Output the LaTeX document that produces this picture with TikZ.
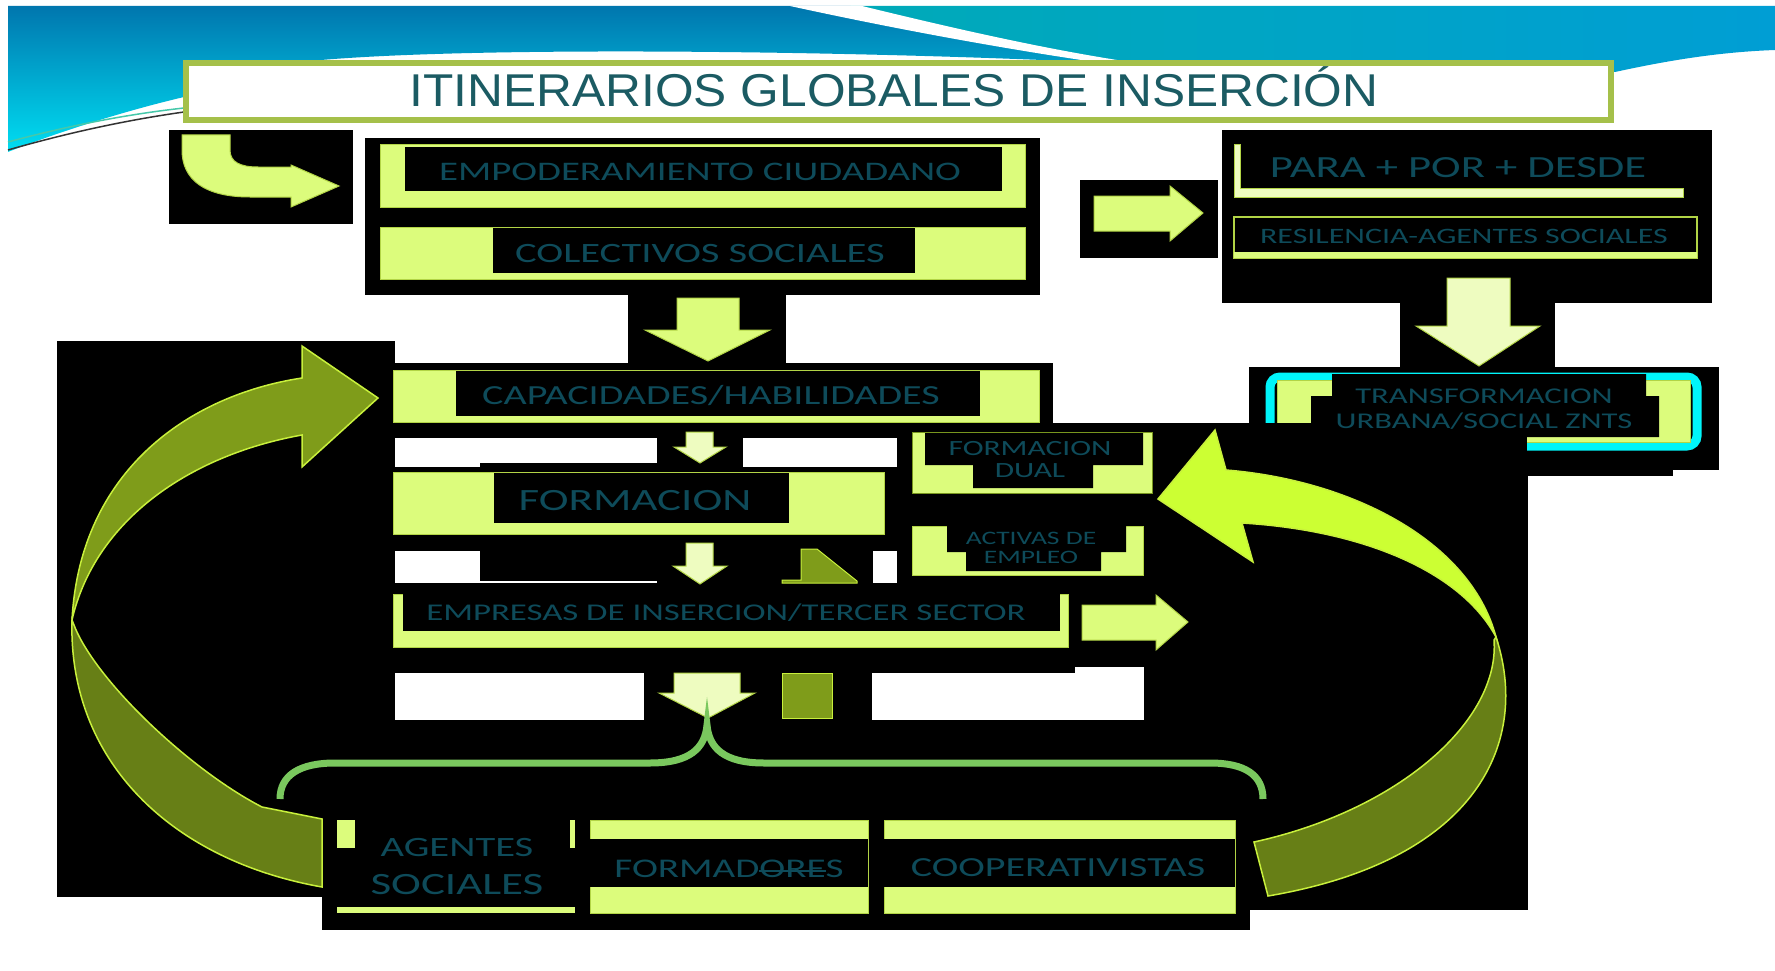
\documentclass[tikz,border=0pt]{standalone}
\usepackage{fontspec}
\usepackage{tikz}
\newfontfamily\boxfont[FakeStretch=1.45]{Carlito}
\newfontfamily\titlefont[FakeStretch=1.08]{Liberation Sans}
\newcommand{\strikeword}[1]{\setbox0\hbox{#1}\rlap{\rule[0.18em]{\wd0}{1.8pt}}\box0}
\definecolor{deepblue}{RGB}{0,118,174}
\definecolor{skycyan}{RGB}{0,222,242}
\definecolor{tealband}{RGB}{0,170,184}
\definecolor{oceanband}{RGB}{0,158,212}
\definecolor{swooshgreen}{RGB}{70,200,170}
\definecolor{titlegreen}{RGB}{165,192,74}
\definecolor{titleteal}{RGB}{27,91,99}
\definecolor{tealtext}{RGB}{14,75,90}
\definecolor{boxlime}{RGB}{220,252,124}
\definecolor{palelime}{RGB}{238,252,192}
\definecolor{limeedge}{RGB}{178,212,70}
\definecolor{oliveedge}{RGB}{120,150,30}
\definecolor{armolive}{RGB}{127,156,26}
\definecolor{armdark}{RGB}{103,127,22}
\definecolor{armbright}{RGB}{204,255,51}
\definecolor{armedge}{RGB}{200,240,60}
\definecolor{bracegreen}{RGB}{122,200,94}
\definecolor{cyanframe}{RGB}{0,245,250}

\begin{document}
\begin{tikzpicture}[x=1pt,y=1pt,yscale=-1,xscale=1,
  blk/.style={fill=black,draw=none},
  gap/.style={fill=white,draw=none},
  limebox/.style={fill=boxlime,draw=limeedge,line width=1},
  limearrow/.style={fill=boxlime,draw=limeedge,line width=1},
  palearrow/.style={fill=palelime,draw=limeedge,line width=1},
  olivepiece/.style={fill=armolive,draw=armedge,line width=1},
  ribbon/.style={draw=armedge,line width=1.5},
  lbl/.style={font=\boxfont\fontsize{#1}{#1}\selectfont,text=tealtext,inner sep=0pt,anchor=base}]

\fill[white] (0,0) rectangle (1775,971);
\useasboundingbox (0,0) rectangle (1775,971);

%Shape: Top band, left part
\shade[top color=deepblue,bottom color=skycyan] (8,6) -- (850,6) .. controls (950,30) and (1050,50) .. (1130,64) .. controls (900,52) and (500,45) .. (321,60) .. controls (250,70) and (210,88) .. (184,97) .. controls (120,112) and (50,135) .. (8,152) -- cycle;
%Shape: Top band, right part
\shade[left color=tealband,right color=oceanband] (850,6) -- (1775,6) -- (1775,50) .. controls (1720,52) and (1670,60) .. (1615,72) -- (1130,64) .. controls (1050,50) and (950,30) .. (850,6) -- cycle;
%Shape: White swoosh
\fill[white] (790,6) -- (862,6) .. controls (960,30) and (1050,50) .. (1130,62) -- (1130,67) .. controls (1020,52) and (900,30) .. (790,6) -- cycle;
%Curve Lines
\draw[swooshgreen,line width=1.5] (8,142) .. controls (60,128) and (120,115) .. (184,108);
\draw[black!80,line width=1.5] (8,150) .. controls (60,135) and (120,121) .. (184,112);

%Shape: Title frame
\draw[titlegreen,line width=6,fill=white] (186,63) rectangle (1611,120);
% Text Node
\draw (894,107) node (title) [anchor=base,inner sep=0pt,text=titleteal,font=\titlefont\fontsize{46}{46}\selectfont] {ITINERARIOS GLOBALES DE INSERCIÓN};

%Shape: Black backgrounds
\fill[blk] (169,130) rectangle (353,224);
\fill[blk] (365,138) rectangle (1040,295);
\fill[blk] (628,295) rectangle (786,363);
\fill[blk] (57,341) rectangle (395,897);
\fill[blk] (379,363) rectangle (1053,423);
\fill[blk] (395,423) rectangle (1053,720);
\fill[blk] (1053,423) rectangle (1528,910);
\fill[blk] (322,720) rectangle (1250,930);
\fill[blk] (1080,180) rectangle (1218,258);
\fill[blk] (1222,130) rectangle (1712,303);
\fill[blk] (1400,303) rectangle (1555,367);
\fill[blk] (1249,367) rectangle (1719,470);
\fill[blk] (1528,470) rectangle (1673,476);

%Shape: White gaps
\fill[gap] (395,438) rectangle (657,463);
\fill[gap] (395,463) rectangle (480,467);
\fill[gap] (743,438) rectangle (897,467);
\fill[gap] (395,551) rectangle (480,583);
\fill[gap] (480,581) rectangle (657,583);
\fill[gap] (873,551) rectangle (897,583);
\fill[gap] (395,673) rectangle (644,720);
\fill[gap] (872,673) rectangle (1144,720);
\fill[gap] (1075,667) rectangle (1144,673);

%Shape: Bent arrow
\draw[limearrow] (182,135) -- (230,135) -- (230,150) .. controls (230,162) and (240,167) .. (258,167) -- (291,167) -- (291,165) -- (339,186) -- (291,207) -- (291,197) -- (250,197) .. controls (205,197) and (182,180) .. (182,150) -- cycle;

%Shape: Empoderamiento
\draw[limebox] (380,145) rectangle (1025,207);
\fill[blk] (405,147) rectangle (1002,191);
% Text Node
\draw (700,180) node (empod) [lbl=26.8] {EMPODERAMIENTO CIUDADANO};

%Shape: Colectivos
\draw[limebox] (380,227) rectangle (1025,279);
\fill[blk] (493,228) rectangle (915,273);
% Text Node
\draw (700,262) node (colect) [lbl=28] {COLECTIVOS SOCIALES};

%Shape: Down arrow
\draw[limearrow] (677,298) -- (739,298) -- (739,330) -- (770,330) -- (708,361) -- (645,330) -- (677,330) -- cycle;

%Shape: Capacidades
\draw[limebox] (393,370) rectangle (1039,422);
\fill[blk] (456,371) rectangle (980,416);
% Text Node
\draw (711,404) node (capac) [lbl=27.6] {CAPACIDADES/HABILIDADES};

%Shape: Small down arrows
\draw[palearrow] (686,432) -- (713,432) -- (713,447) -- (726,447) -- (700,463) -- (674,447) -- (686,447) -- cycle;
\draw[palearrow] (686,543) -- (713,543) -- (713,566) -- (727,566) -- (700,584) -- (673,566) -- (686,566) -- cycle;

%Shape: Formacion
\draw[limebox] (393,472) rectangle (884,534);
\fill[blk] (494,473) rectangle (789,523);
% Text Node
\draw (635,510) node (formac) [lbl=31] {FORMACION};

%Shape: Olive pieces
\draw[olivepiece] (801,549) -- (817,549) -- (857,581) -- (857,583) -- (782,583) -- (782,580) -- (801,580) -- cycle;
\draw[olivepiece] (782,673) rectangle (832,718);

%Shape: Formacion dual
\draw[limebox,draw=oliveedge] (912,432) rectangle (1152,493);
\fill[blk] (925,433) -- (1143,433) -- (1143,465) -- (1093,465) -- (1093,488) -- (973,488) -- (973,465) -- (925,465) -- cycle;
% Text Node
\draw (1030,455) node (dual1) [lbl=21.7] {FORMACION};
% Text Node
\draw (1030,477) node (dual2) [lbl=21.7] {DUAL};

%Shape: Activas de empleo
\draw[limebox] (912,526) rectangle (1143,575);
\fill[blk] (947,526) -- (1126,526) -- (1126,552) -- (1101,552) -- (1101,571) -- (966,571) -- (966,552) -- (947,552) -- cycle;
% Text Node
\draw (1031,544) node (activ1) [lbl=19] {ACTIVAS DE};
% Text Node
\draw (1031,563) node (activ2) [lbl=19] {EMPLEO};

%Shape: Empresas
\draw[limebox] (393,594) rectangle (1068,647);
\fill[blk] (403,594) rectangle (1060,631);
% Text Node
\draw (726,620) node (empres) [lbl=24] {EMPRESAS DE INSERCION/TERCER SECTOR};

%Shape: Right arrows
\draw[limearrow] (1082,605) -- (1156,605) -- (1156,595) -- (1188,622) -- (1156,650) -- (1156,640) -- (1082,640) -- cycle;
\draw[limearrow] (1094,196) -- (1170,196) -- (1170,186) -- (1203,213) -- (1170,241) -- (1170,231) -- (1094,231) -- cycle;

%Shape: Bottom down arrow
\draw[palearrow] (674,673) -- (740,673) -- (740,693) -- (755,693) -- (708,718) -- (659,693) -- (674,693) -- cycle;

%Shape: Para + por + desde
\draw[palearrow] (1234,145) -- (1240,145) -- (1240,188) -- (1683,188) -- (1683,197) -- (1234,197) -- cycle;
% Text Node
\draw (1458,177) node (para) [lbl=30.8] {PARA + POR + DESDE};

%Shape: Resilencia
\draw[limeedge,line width=2] (1234,217) rectangle (1697,258);
\fill[boxlime] (1234,252) rectangle (1697,258);
% Text Node
\draw (1464,243) node (resil) [lbl=22] {RESILENCIA-AGENTES SOCIALES};

%Shape: Right down arrow
\draw[palearrow] (1447,278) -- (1510,278) -- (1510,326) -- (1540,326) -- (1479,366) -- (1416,326) -- (1447,326) -- cycle;

%Shape: Transformacion
\draw[cyanframe,line width=9,rounded corners=10] (1270,377) rectangle (1697,446);
\draw[limebox] (1277,380) rectangle (1690,442);
\fill[blk] (1332,374) -- (1646,374) -- (1646,396) -- (1659,396) -- (1659,437) -- (1311,437) -- (1311,396) -- (1332,396) -- cycle;
\fill[blk] (1265,423) rectangle (1527,452);
% Text Node
\draw (1484,403) node (transf1) [lbl=22.5] {TRANSFORMACION};
% Text Node
\draw (1484,428) node (transf2) [lbl=22.5] {URBANA/SOCIAL ZNTS};

%Shape: Left loop arrow
\draw[ribbon,fill=armolive] (378,398) -- (302,346) -- (302,378) .. controls (190,395) and (80,470) .. (72,620) .. controls (95,520) and (190,455) .. (302,435) -- (302,467) -- cycle;
\draw[ribbon,fill=armdark] (72,620) .. controls (68,760) and (170,860) .. (322,887) -- (322,819) -- (262,807) .. controls (190,770) and (95,680) .. (74,625) -- cycle;

%Shape: Right loop arrow
\draw[ribbon,fill=armbright] (1158,499) -- (1215,430) -- (1226,470) .. controls (1350,480) and (1470,540) .. (1496,637) .. controls (1460,570) and (1360,530) .. (1242,523) -- (1253,562) -- cycle;
\draw[ribbon,fill=armdark] (1496,637) .. controls (1530,740) and (1480,860) .. (1268,896) -- (1254,842) .. controls (1400,810) and (1500,720) .. (1494,640) -- cycle;

%Shape: Brace
\draw[bracegreen,line width=7] (280,799) .. controls (280,775) and (300,763) .. (335,763) -- (650,763) .. controls (690,763) and (705,748) .. (707,725) .. controls (709,748) and (724,763) .. (764,763) -- (1210,763) .. controls (1245,763) and (1263,775) .. (1263,799);

%Shape: Agentes sociales
\fill[boxlime] (337,820) rectangle (355,848);
\fill[boxlime] (570,820) rectangle (575,848);
\fill[boxlime] (337,907) rectangle (575,913);
% Text Node
\draw (457,856) node (agent1) [lbl=28] {AGENTES};
% Text Node
\draw (457,894) node (agent2) [lbl=31] {SOCIALES};

%Shape: Formadores
\draw[limebox] (590,820) rectangle (868,913);
\fill[blk] (590,839) rectangle (868,887);
% Text Node
\draw (729,877) node (formad) [lbl=27] {FORMAD\strikeword{ORE}S};

%Shape: Cooperativistas
\draw[limebox] (884,820) rectangle (1235,913);
\fill[blk] (884,839) rectangle (1235,887);
% Text Node
\draw (1058,876) node (coop) [lbl=27.6] {COOPERATIVISTAS};

\end{tikzpicture}
\end{document}
